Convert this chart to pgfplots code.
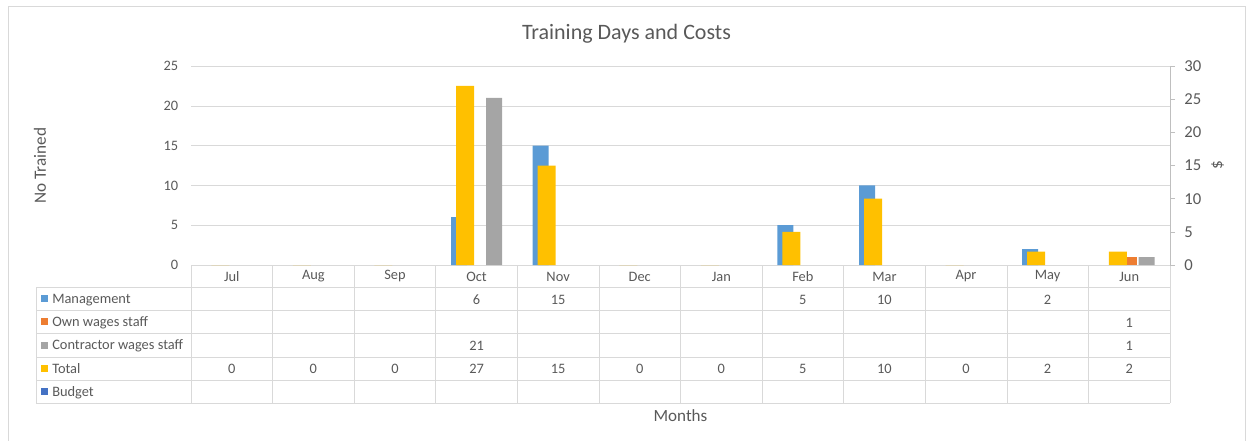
\documentclass[border=0pt]{standalone}
\usepackage{pgfplots}
\pgfplotsset{compat=1.18}
\usepackage{pgfplotstable}
\usepackage{fontspec}
\setmainfont{Carlito}

\definecolor{txt}{HTML}{595959}
\definecolor{gridc}{HTML}{D9D9D9}
\definecolor{axc}{HTML}{BFBFBF}
\definecolor{mgmt}{HTML}{5B9BD5}
\definecolor{own}{HTML}{ED7D31}
\definecolor{contr}{HTML}{A5A5A5}
\definecolor{tot}{HTML}{FFC000}
\definecolor{budg}{HTML}{4472C4}

% months 0..11 = Jul..Jun
\pgfplotstableread{
x  mgmt own contr total budget
0  nan  nan nan   0     nan
1  nan  nan nan   0     nan
2  nan  nan nan   0     nan
3  6    nan 21    27    nan
4  15   nan nan   15    nan
5  nan  nan nan   0     nan
6  nan  nan nan   0     nan
7  5    nan nan   5     nan
8  10   nan nan   10    nan
9  nan  nan nan   0     nan
10 2    nan nan   2     nan
11 nan  1   1     2     nan
}\months

\pgfplotsset{
  base/.style={scale only axis, width=734.25pt, height=149.25pt,
    xmin=-0.5, xmax=11.5, ymin=0,
    at={(143.25pt,-198.75pt)}, anchor=south west,
    /pgf/number format/assume math mode=true,
    tick label style={text=txt, font=\fontsize{10.8}{12}\selectfont}},
  cell/.style={draw=none, mark=none, point meta=explicit,
    nodes near coords={\pgfmathfloatifflags{\pgfplotspointmeta}{3}{}{\pgfmathprintnumber{\pgfplotspointmeta}}},
    every node near coord/.append style={anchor=center, text=txt,
      font=\fontsize{10.8}{12}\selectfont}},
}

\begin{document}
\begin{tikzpicture}
\useasboundingbox (0,0) rectangle (936pt,-330pt);
\begin{scope}[x=0.75pt,y=-0.75pt]
  % chart frame
  \draw[gridc] (8,441) -- (8,6) -- (1245,6) -- (1245,441);
  % title and x title
  \node[anchor=base, text=txt, font=\fontsize{16.5}{18}\selectfont] at (626.5,39) {Training Days and Costs};
  \node[anchor=base, text=txt, font=\fontsize{12.8}{14}\selectfont] at (680.5,421.5) {Months};
  % data table grid
  \draw[gridc] (191,265) -- (1170,265);
  \foreach \yy in {287,310,333,357,380,403} \draw[gridc] (36,\yy) -- (1170,\yy);
  \draw[gridc] (36,287) -- (36,403);
  \foreach \k in {0,...,12} \draw[gridc] ({191+81.583*\k},265) -- ({191+81.583*\k},403);
  % legend keys
  \foreach \c/\t/\yy in {mgmt/Management/298.5, own/Own wages staff/321.5,
      contr/Contractor wages staff/345, tot/Total/368.5, budg/Budget/391.5}{
    \fill[\c] (41,\yy-3.5) rectangle (48,\yy+3.5);
    \node[anchor=base west, inner sep=0pt, text=txt, font=\fontsize{10.8}{12}\selectfont] at (52,\yy+4.5) {\t};
  }
\end{scope}

% primary axis: No Trained
\begin{axis}[base, ymax=25, ytick={0,5,...,25},
  ymajorgrids, grid style={draw=gridc},
  axis line style={draw=none}, major tick length=0pt,
  xtick={0,...,11},
  xticklabels={Jul,Aug,Sep,Oct,Nov,Dec,Jan,Feb,Mar,Apr,May,Jun},
  xticklabel style={anchor=center, yshift=-8.6pt},
  yticklabel style={xshift=-6pt},
  ylabel={No Trained},
  ylabel style={at={(rel axis cs:-0.1542,0.5)}, anchor=center, text=txt,
    font=\fontsize{12.9}{14}\selectfont}]
\addplot[ybar, bar width=12pt, bar shift=-13.1pt, fill=mgmt, draw=none] table[x=x, y=mgmt] {\months};
\addplot[ybar, bar width=12pt, bar shift=0pt, fill=own, draw=none] table[x=x, y=own] {\months};
\addplot[ybar, bar width=12pt, bar shift=13.1pt, fill=contr, draw=none] table[x=x, y=contr] {\months};
\end{axis}

% secondary axis: $
\begin{axis}[base, ymax=30, ytick={0,5,...,30},
  axis y line*=right, axis x line=none, xtick=\empty,
  tick align=outside, major tick length=3.75pt,
  every tick/.style={draw=axc}, y axis line style={draw=axc},
  yticklabel style={font=\fontsize{12.5}{14}\selectfont, xshift=3.5pt},
  ylabel={\$},
  ylabel style={at={(rel axis cs:1.0485,0.5)}, anchor=center, text=txt,
    font=\fontsize{13}{14}\selectfont}]
\addplot[ybar, bar width=13.5pt, bar shift=-8.6pt, fill=tot, draw=none] table[x=x, y=total] {\months};
\end{axis}

% data table values
\begin{axis}[scale only axis, width=734.25pt, height=103.5pt,
  xmin=-0.5, xmax=11.5, ymin=0, ymax=6,
  at={(143.25pt,-302.25pt)}, anchor=south west,
  hide axis, clip=false,
  /pgf/number format/assume math mode=true]
\addplot[cell] table[x=x, y expr=4.5, meta=mgmt] {\months};
\addplot[cell] table[x=x, y expr=3.5, meta=own] {\months};
\addplot[cell] table[x=x, y expr=2.5, meta=contr] {\months};
\addplot[cell] table[x=x, y expr=1.5, meta=total] {\months};
\addplot[cell] table[x=x, y expr=0.5, meta=budget] {\months};
\end{axis}
\end{tikzpicture}
\end{document}
